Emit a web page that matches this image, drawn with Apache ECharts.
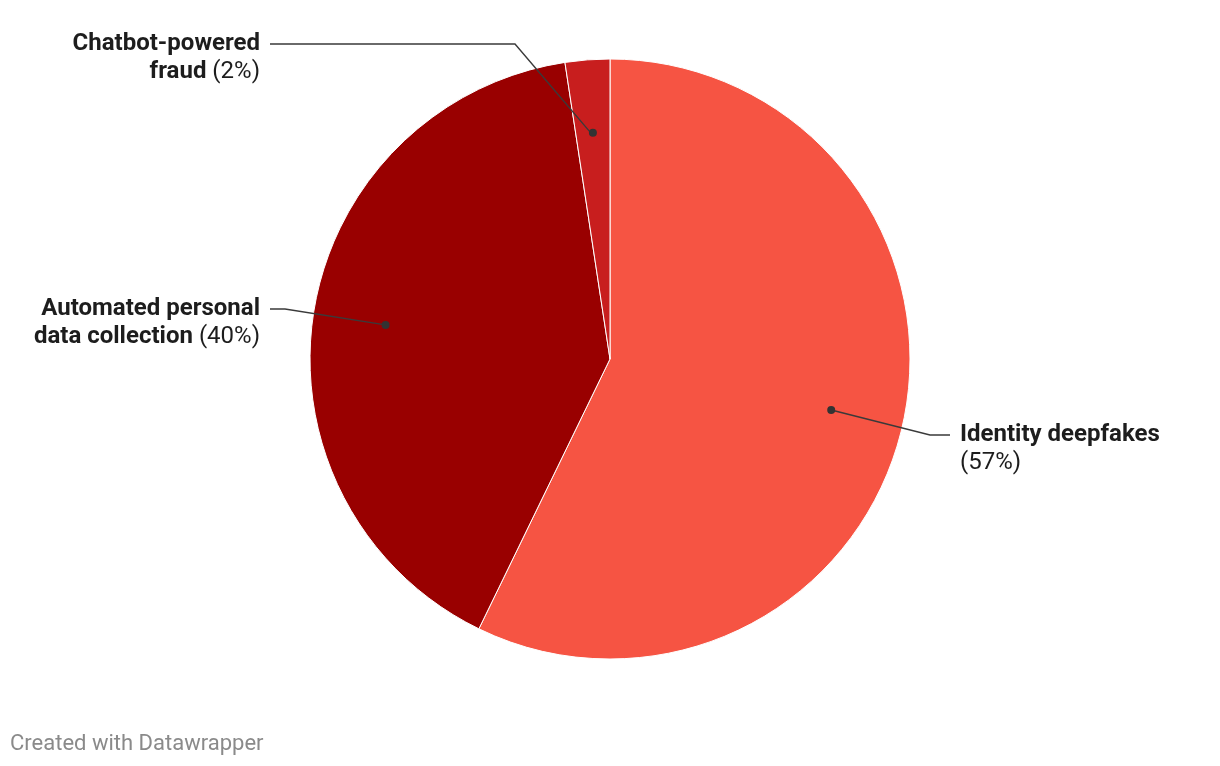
<!DOCTYPE html>
<html><head><meta charset="utf-8">
<script src="https://cdn.jsdelivr.net/npm/echarts@6/dist/echarts.min.js"></script>
<style>html,body{margin:0;padding:0;background:#fff}#c{width:1220px;height:766px}</style>
</head><body><div id="c"></div>
<script>
const categories = ['Identity deepfakes', 'Automated personal data collection', 'Chatbot-powered fraud'];
const labelText = ['Identity deepfakes\n', 'Automated personal\ndata collection ', 'Chatbot-powered\nfraud '];
const values = [57.2, 40.4, 2.4];
const colors = ['#f65443', '#990000', '#c81e1e'];

const CX = 610, CY = 359, R = 300, DOT_R = 224;
// label anchors (layout only): [textX, firstLineCenterY, align, elbowX, endX]
const labelPos = [
  [960, 435, 'left', 930, 950],
  [260, 309, 'right', 285, 270],
  [260, 44, 'right', 515, 270]
];
const total = values.reduce((a, b) => a + b, 0);
function dotPoint(i) {
  let before = 0;
  for (let k = 0; k < i; k++) before += values[k];
  const mid = (before + values[i] / 2) / total * 2 * Math.PI;
  return [CX + DOT_R * Math.sin(mid), CY - DOT_R * Math.cos(mid)];
}

const chart = echarts.init(document.getElementById('c'), null, {renderer: 'canvas'});
const mainData = categories.map((n, i) => ({name: n, value: values[i], itemStyle: {color: colors[i]}}));
const ghostData = categories.map((n, i) => ({name: n, value: values[i]}));

chart.setOption({
  animation: false,
  backgroundColor: '#fff',
  title: {
    text: 'Created with Datawrapper',
    left: 10, top: 733, padding: 0,
    textStyle: {fontFamily: 'Roboto', fontSize: 22, fontWeight: 'normal', color: '#8a8a8a'}
  },
  series: [
    {
      type: 'pie',
      z: 2,
      center: [CX, CY],
      radius: R,
      startAngle: 90,
      clockwise: true,
      data: mainData,
      itemStyle: {borderColor: '#fff', borderWidth: 1},
      emphasis: {disabled: true},
      label: {show: false},
      labelLine: {show: false}
    },
    {
      type: 'pie',
      z: 5,
      center: [CX, CY],
      radius: R,
      startAngle: 90,
      clockwise: true,
      silent: true,
      data: ghostData,
      itemStyle: {color: 'rgba(0,0,0,0)', borderWidth: 0},
      emphasis: {disabled: true},
      label: {
        show: true,
        position: 'outside',
        formatter: function (p) {
          const lines = labelText[p.dataIndex].split('\n');
          const pct = '{p|(' + Math.round(p.percent) + '%)}';
          const out = lines.map((l, j) => {
            const s = l.length ? '{b|' + l + '}' : '';
            return j === lines.length - 1 ? s + pct : s;
          });
          return out.join('\n');
        },
        rich: {
          b: {fontFamily: 'Roboto', fontSize: 24, fontWeight: 'bold', color: '#1d1d1d', lineHeight: 28},
          p: {fontFamily: 'Roboto', fontSize: 24, fontWeight: 'normal', color: '#1d1d1d', lineHeight: 28}
        }
      },
      labelLine: {show: true, lineStyle: {color: '#3a3a3a', width: 1.4}},
      labelLayout: function (params) {
        const i = params.dataIndex;
        const lp = labelPos[i];
        const d = dotPoint(i);
        return {
          x: lp[0],
          y: lp[1] - 14,
          align: lp[2],
          verticalAlign: 'top',
          labelLinePoints: [d, [lp[3], lp[1]], [lp[4], lp[1]]]
        };
      }
    },
    {
      type: 'pie',
      z: 6,
      center: [CX, CY],
      radius: [DOT_R - 2, DOT_R + 2],
      startAngle: 90,
      clockwise: true,
      silent: true,
      data: ghostData,
      itemStyle: {color: 'rgba(0,0,0,0)', borderWidth: 0},
      emphasis: {disabled: true},
      label: {
        show: true,
        position: 'inside',
        formatter: '{d| }',
        rich: {d: {width: 8, height: 8, borderRadius: 4, backgroundColor: '#333', fontSize: 1, lineHeight: 8}}
      },
      labelLine: {show: false}
    }
  ]
});
</script>
</body></html>
